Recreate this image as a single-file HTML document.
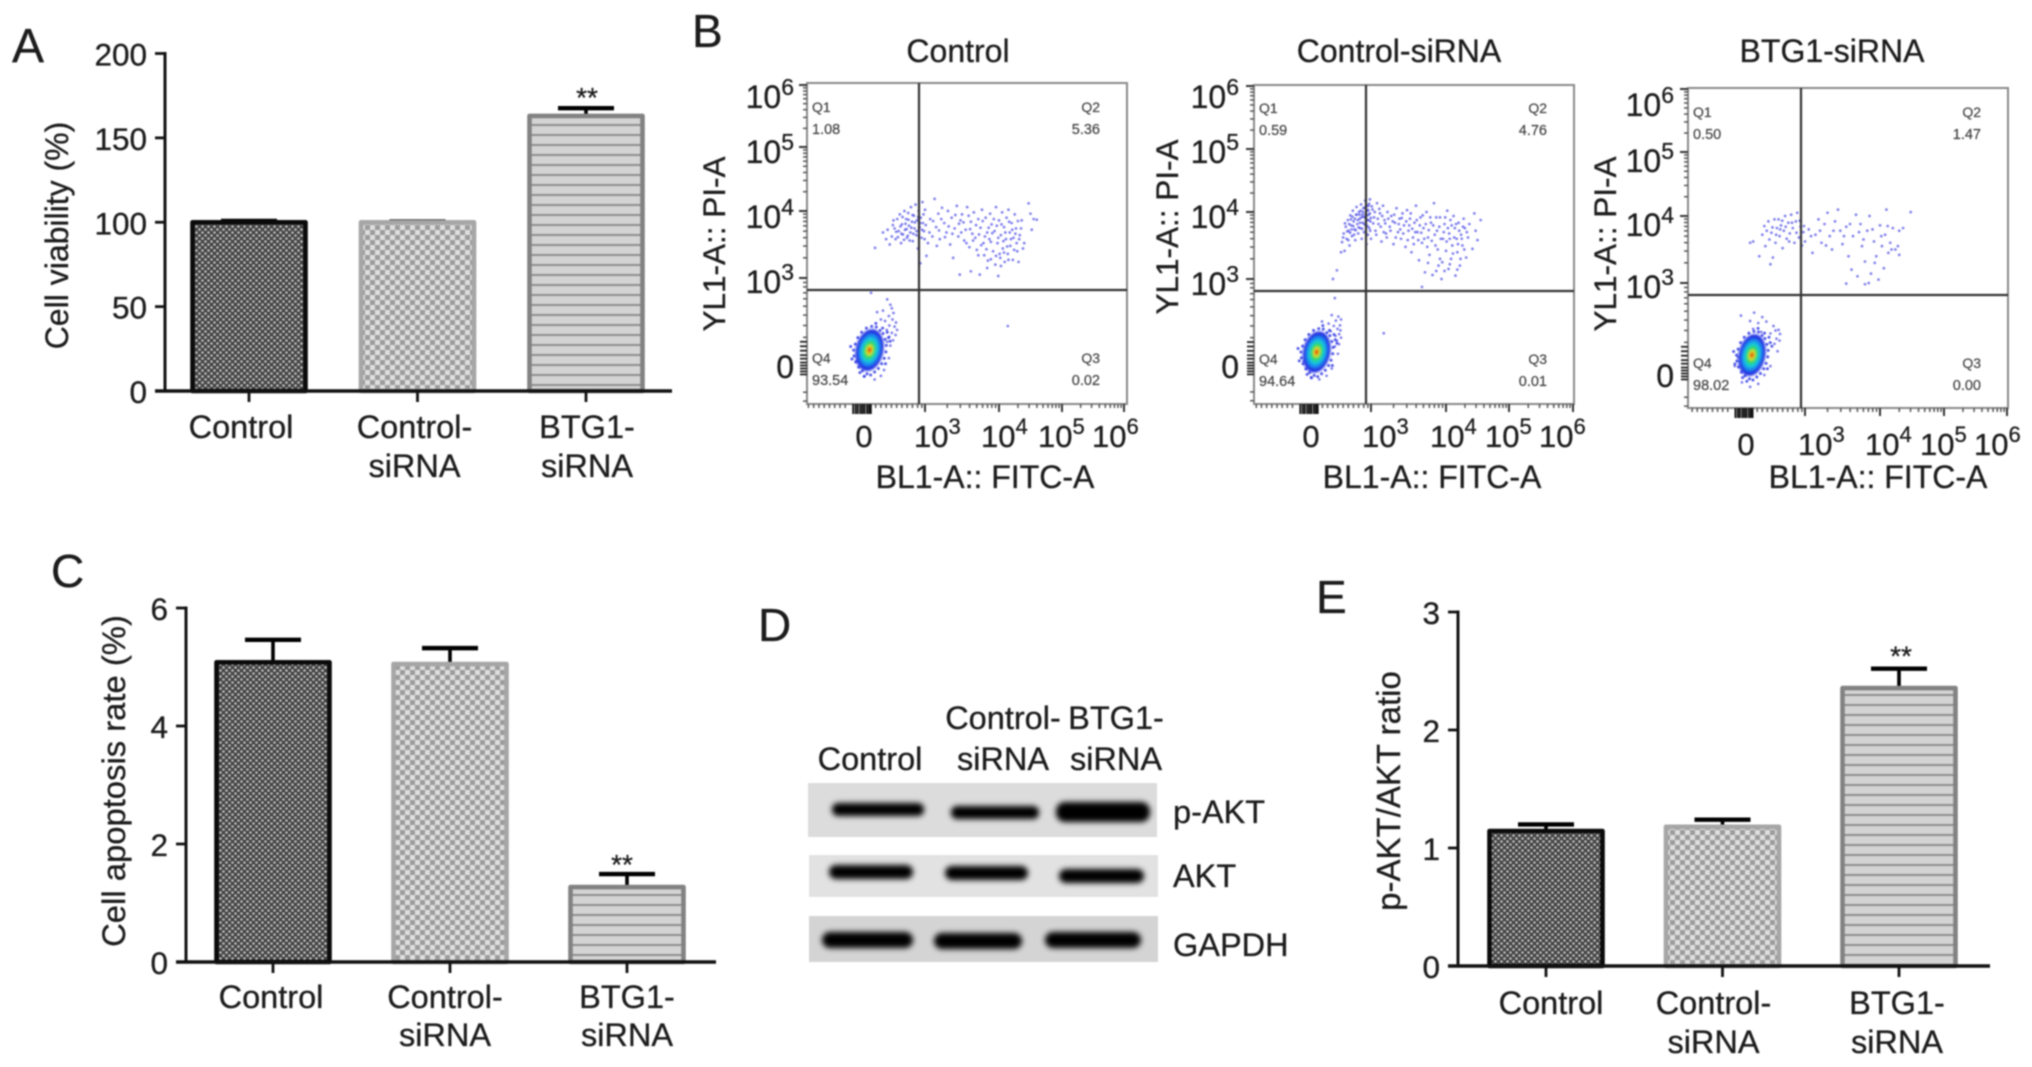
<!DOCTYPE html>
<html lang="en">
<head>
<meta charset="utf-8">
<title>BTG1-siRNA cell viability, apoptosis and p-AKT figure</title>
<style>
  html, body { margin: 0; padding: 0; background: #fff; width: 2032px; height: 1067px; overflow: hidden; }
  svg { display: block; filter: blur(0.8px); }
  text { font-family: "Liberation Sans", sans-serif; fill: #1c1c1c; stroke: #1c1c1c; stroke-width: 0.3px; }
</style>
</head>
<body>
<svg id="figure" xmlns="http://www.w3.org/2000/svg" width="2032" height="1067" viewBox="0 0 2032 1067">
  <defs>
    <pattern id="pat-dots" patternUnits="userSpaceOnUse" width="6" height="6">
      <rect width="6" height="6" fill="#424242"/>
      <circle cx="1.5" cy="1.5" r="1.3" fill="#c4c4c4"/>
      <circle cx="4.5" cy="4.5" r="1.3" fill="#c4c4c4"/>
    </pattern>
    <pattern id="pat-check" patternUnits="userSpaceOnUse" width="10" height="10">
      <rect width="10" height="10" fill="#dedede"/>
      <rect x="0" y="0" width="5" height="5" fill="#9c9c9c"/>
      <rect x="5" y="5" width="5" height="5" fill="#9c9c9c"/>
    </pattern>
    <pattern id="pat-lines" patternUnits="userSpaceOnUse" width="10" height="10">
      <rect width="10" height="10" fill="#d4d4d4"/>
      <rect y="4" width="10" height="2" fill="#8e8e8e"/>
    </pattern>
    <filter id="band-blur" x="-20%" y="-100%" width="140%" height="300%"><feGaussianBlur stdDeviation="2.8"/></filter>
    <filter id="blob-blur" x="-30%" y="-30%" width="160%" height="160%"><feGaussianBlur stdDeviation="1.1"/></filter>
  </defs>

  <text x="12" y="62" font-size="48">A</text>
  <text x="692" y="47" font-size="46">B</text>
  <text x="51" y="587" font-size="46">C</text>
  <text x="758" y="641" font-size="46">D</text>
  <text x="1316" y="613" font-size="46">E</text>

  <g id="panel-a"></g>
  <g id="panel-b"></g>
  <g id="panel-c"></g>
  <g id="panel-e"></g>

  <g id="panel-d">
    <text x="870" y="770" font-size="32.5" text-anchor="middle">Control</text>
    <text x="1003" y="729" font-size="32.5" text-anchor="middle">Control-</text>
    <text x="1003" y="770" font-size="32.5" text-anchor="middle">siRNA</text>
    <text x="1116" y="729" font-size="32.5" text-anchor="middle">BTG1-</text>
    <text x="1116" y="770" font-size="32.5" text-anchor="middle">siRNA</text>

    <rect x="808" y="783" width="349" height="54" fill="#dcdcdc"/>
    <rect x="809" y="855" width="349" height="42" fill="#e2e2e2"/>
    <rect x="809" y="916" width="349" height="46" fill="#d4d4d4"/>

    <g filter="url(#band-blur)" fill="#000">
      <rect x="832" y="803" width="92" height="13" rx="6"/>
      <rect x="951" y="806" width="88" height="13" rx="6"/>
      <rect x="1056" y="802" width="94" height="20" rx="9"/>
      <rect x="829" y="865" width="84" height="14" rx="7"/>
      <rect x="945" y="866" width="83" height="14" rx="7"/>
      <rect x="1059" y="869" width="85" height="14" rx="7"/>
      <rect x="822" y="932" width="91" height="16" rx="8"/>
      <rect x="934" y="933" width="88" height="16" rx="8"/>
      <rect x="1045" y="932" width="96" height="16" rx="8"/>
    </g>

    <text x="1173" y="823" font-size="32.5">p-AKT</text>
    <text x="1173" y="887" font-size="32.5">AKT</text>
    <text x="1173" y="956" font-size="32.5">GAPDH</text>
  </g>

<script>
// ---------- bar chart data ----------
const barCategories = [["Control"], ["Control-", "siRNA"], ["BTG1-", "siRNA"]];
const barPatterns = ["pat-dots", "pat-check", "pat-lines"];
const barStrokes = ["#0a0a0a", "#a6a6a6", "#828282"];

const viabilityValues = [100, 100, 163];
const viabilityErrors = [0.8, 0.4, 4.6];
const viabilityTicks = [0, 50, 100, 150, 200];

const apoptosisValues = [5.08, 5.05, 1.27];
const apoptosisErrors = [0.38, 0.27, 0.22];
const apoptosisTicks = [0, 2, 4, 6];

const ratioValues = [1.144, 1.18, 2.355];
const ratioErrors = [0.056, 0.06, 0.165];
const ratioTicks = [0, 1, 2, 3];

// ---------- flow cytometry data (biexponential channel units: 3 = 10^3, 4 = 10^4 ...) ----------
const flowTitles = ["Control", "Control-siRNA", "BTG1-siRNA"];
const flowXAxisTicks = [0, 3, 4, 5, 6];
const flowYAxisTicks = [0, 3, 4, 5, 6];
const quadrantNames = ["Q1", "Q2", "Q3", "Q4"];
const controlQuadrants = ["1.08", "5.36", "0.02", "93.54"];
const controlSirnaQuadrants = ["0.59", "4.76", "0.01", "94.64"];
const btg1SirnaQuadrants = ["0.50", "1.47", "0.00", "98.02"];
const blobCenters = [[0.36, 0.57], [0.37, 0.51], [0.39, 0.57]];

const controlPoints = [
[0.62,3.45],[1.0,3.68],[1.15,3.58],[1.22,3.72],[1.32,3.5],[1.42,3.62],[1.5,3.86],[1.55,3.74],[1.6,3.58],[1.68,3.88],[1.75,3.7],[1.8,3.95],[1.86,3.52],[1.9,3.8],[1.95,3.65],[2.02,4.0],[2.05,3.72],[2.1,3.88],[2.14,3.6],[2.2,3.97],[2.24,3.78],[2.3,3.68],[2.33,4.06],[2.38,3.84],[2.42,3.55],[2.47,3.93],[2.5,3.74],[2.55,4.1],[2.58,3.64],[2.62,3.86],[2.66,3.44],[2.7,4.0],[2.74,3.76],[2.8,3.9],[2.84,3.6],[2.88,4.14],[2.9,3.82],[2.95,3.7],[3.0,4.02],[3.02,3.33],[3.04,3.52],[3.07,3.88],[3.1,3.62],[3.13,4.19],[3.15,3.76],[3.18,3.96],[3.2,3.58],[3.23,4.05],[3.26,3.82],[3.29,3.68],[3.31,4.0],[3.34,3.5],[3.36,3.9],[3.38,3.3],[3.4,3.74],[3.43,4.08],[3.45,3.62],[3.47,3.05],[3.48,3.86],[3.5,3.95],[3.53,3.56],[3.55,3.72],[3.57,4.06],[3.6,3.46],[3.62,3.84],[3.64,3.66],[3.66,3.98],[3.68,3.6],[3.7,3.42],[3.72,3.88],[3.74,3.05],[3.75,3.75],[3.77,4.02],[3.79,3.52],[3.8,3.34],[3.82,3.9],[3.84,3.68],[3.85,3.26],[3.87,3.58],[3.88,3.96],[3.9,3.8],[3.92,3.4],[3.94,3.7],[3.95,3.2],[3.96,4.06],[3.98,3.52],[3.99,3.03],[4.0,3.86],[4.02,3.3],[4.03,3.64],[4.05,3.98],[4.06,3.44],[4.08,3.76],[4.09,3.24],[4.11,3.58],[4.12,3.9],[4.14,3.36],[4.15,4.02],[4.17,3.68],[4.18,3.48],[4.2,3.82],[4.22,3.27],[4.23,3.6],[4.25,3.95],[4.27,3.74],[4.29,3.4],[4.31,3.24],[4.33,3.64],[4.36,3.86],[4.4,3.52],[4.47,4.12],[4.5,3.96],[4.52,3.72],[4.55,3.88],[4.6,3.87],[4.14,1.38],[3.62,3.1],[3.84,3.15],[2.78,3.22],
[1.47,3.79],[1.63,3.69],[1.71,3.61],[1.83,3.77],[1.88,3.66],[1.93,3.91],[2.0,3.57],[2.07,3.81],[2.12,3.73],[2.18,3.63],[2.21,3.87],[2.27,3.56],[2.35,3.75],[2.41,3.94],[2.44,3.66],[2.52,3.83],[2.6,3.7],[2.67,3.91],[2.71,3.62],[2.77,3.82],[2.86,3.72],[2.93,3.95],[2.98,3.58],[3.01,3.79],[3.06,3.68],[3.11,3.85],[3.16,3.48],[3.19,3.71],[3.22,3.88],[3.27,3.61],[3.32,3.77],[3.37,3.66],[3.41,3.94],[3.46,3.81],[3.49,3.68],[3.52,3.83],[3.56,3.52],[3.59,3.93],[3.61,3.73],[3.65,3.56],[3.69,3.79],[3.73,3.65],[3.76,3.49],[3.78,3.85],[3.81,3.62],[3.83,3.43],[3.86,3.75],[3.89,3.54],[3.91,3.67],[3.93,3.88],[3.97,3.78],[3.99,3.6],[4.01,3.36],[4.04,3.8],[4.07,3.55],[4.1,3.68],[4.13,3.47],[4.16,3.84],[4.19,3.58],[4.21,3.72],[4.24,3.42],[4.26,3.66],[4.28,3.52],[4.3,3.85],[4.32,3.58],[4.35,3.74],[4.38,3.44],[3.72,3.34],[3.89,3.28],[4.03,3.18],[4.15,3.27],[3.96,3.33],[4.08,3.38]
];
const controlHalo = [
[0.43,2.5],[1.2,2.28],[1.35,2.1],[1.42,1.98],[0.72,1.85],[1.0,1.9],[1.5,1.82],[1.28,1.72],[0.9,1.6],[1.1,1.55],[1.45,1.6],[1.62,1.5],[1.3,1.4],[1.55,1.36],[1.67,1.25],[1.18,1.25],[1.42,1.15],[1.6,1.08],[1.3,1.02],[1.48,0.9],[1.2,0.85],[1.35,0.72],[-0.25,0.2],[1.28,0.3],[1.05,-0.1],[0.1,-0.32],[0.6,-0.42],[0.9,-0.3]
];
const controlSirnaPoints = [
[1.16,3.0],[1.35,3.13],[1.55,3.4],[1.6,3.55],[1.68,3.68],[1.72,3.42],[1.78,3.78],[1.82,3.6],[1.88,3.88],[1.92,3.72],[1.96,3.5],[2.0,3.95],[2.04,3.8],[2.08,3.64],[2.12,4.02],[2.16,3.86],[2.2,3.74],[2.24,3.58],[2.28,3.96],[2.3,4.08],[2.34,3.82],[2.38,3.68],[2.42,4.0],[2.45,3.9],[2.48,3.76],[2.52,4.12],[2.55,3.6],[2.58,3.96],[2.6,3.84],[2.63,4.06],[2.66,3.7],[2.7,3.92],[2.72,4.18],[2.75,3.8],[2.78,3.52],[2.8,4.02],[2.82,3.88],[2.85,3.66],[2.88,4.1],[2.9,3.96],[2.92,3.76],[2.95,4.2],[2.97,3.86],[3.0,3.6],[3.02,4.04],[3.04,3.92],[3.06,3.72],[3.08,4.14],[3.1,3.82],[3.12,3.98],[3.14,3.56],[3.16,4.1],[3.18,3.88],[3.2,3.68],[3.22,4.0],[3.25,3.78],[3.27,3.94],[3.3,3.52],[3.32,3.84],[3.34,4.06],[3.36,3.7],[3.38,3.9],[3.4,3.6],[3.42,3.98],[3.44,3.8],[3.46,3.48],[3.48,4.03],[3.5,3.72],[3.52,3.9],[3.54,3.4],[3.56,3.62],[3.58,3.84],[3.6,4.1],[3.62,3.7],[3.64,3.28],[3.66,3.92],[3.68,3.54],[3.7,3.76],[3.72,3.1],[3.74,4.0],[3.76,3.62],[3.78,3.36],[3.8,3.84],[3.82,3.06],[3.84,4.14],[3.86,3.5],[3.88,3.72],[3.9,3.2],[3.92,3.92],[3.94,3.0],[3.96,3.6],[3.98,3.82],[4.0,3.42],[4.02,4.02],[4.04,3.15],[4.05,3.68],[4.07,3.88],[4.08,3.3],[4.1,3.5],[4.12,3.94],[4.14,3.76],[4.15,3.05],[4.17,3.6],[4.18,3.4],[4.2,3.84],[4.22,3.2],[4.24,3.66],[4.26,3.5],[4.28,3.9],[4.3,3.76],[4.32,3.32],[4.35,3.62],[4.45,3.98],[4.47,3.72],[4.5,3.58],[4.42,3.45],[4.55,3.88],[3.17,1.15],[3.68,2.73],
[1.65,3.62],[1.74,3.83],[1.85,3.71],[1.9,3.58],[1.94,3.82],[1.99,3.69],[2.03,3.89],[2.06,3.74],[2.1,3.93],[2.14,3.79],[2.18,3.66],[2.22,3.9],[2.26,3.73],[2.31,3.96],[2.36,3.88],[2.4,3.77],[2.44,3.96],[2.47,3.84],[2.5,4.02],[2.54,3.92],[2.57,3.75],[2.61,4.0],[2.64,3.93],[2.67,3.82],[2.69,4.07],[2.73,3.97],[2.76,3.87],[2.79,4.1],[2.81,3.95],[2.84,3.79],[2.87,4.03],[2.89,3.88],[2.91,4.13],[2.94,3.98],[2.96,3.72],[2.99,3.91],[3.01,4.09],[3.03,3.83],[3.05,4.0],[3.07,3.66],[3.09,3.9],[3.11,4.05],[3.13,3.78],[3.15,3.94],[3.17,3.7],[3.19,3.83],[3.21,3.62],[3.23,3.9],[3.26,3.72],[3.29,3.86],[3.31,3.96],[3.33,3.62],[3.37,3.82],[3.39,3.74],[3.41,3.91],[3.43,3.68],[3.47,3.86],[3.49,3.58],[3.51,3.8],[3.53,3.98],[3.55,3.75],[3.57,3.52],[3.59,3.7],[3.61,3.88],[3.63,3.58],[3.65,3.8],[3.67,3.69],[3.69,3.95],[3.71,3.6],[3.73,3.82],[3.75,3.48],[3.77,3.73],[3.79,3.92],[3.81,3.57],[3.83,3.8],[3.85,3.66],[3.87,3.92],[3.89,3.44],[3.91,3.78],[3.93,3.6],[3.95,3.25],[3.97,3.7],[3.99,3.92],[4.01,3.56],[4.03,3.76],[4.06,3.6],[4.09,3.8],[4.11,3.38],[4.13,3.62],[4.16,3.82],[4.19,3.52],[4.21,3.72],[4.23,3.3],[4.25,3.6],[4.27,3.78],[4.29,3.44],[4.33,3.7],[4.37,3.82],[3.98,3.12],[4.06,3.22],[3.87,3.12],[3.76,3.24],[4.18,3.14],[3.92,3.3]
];
const controlSirnaHalo = [
[1.25,2.35],[0.63,1.55],[1.1,1.77],[1.42,1.72],[1.55,1.62],[1.3,1.58],[0.95,1.48],[1.5,1.42],[1.2,1.4],[1.38,1.3],[1.52,1.25],[1.05,1.22],[1.46,1.12],[1.28,1.06],[1.55,1.0],[1.35,0.9],[1.45,0.78],[1.25,0.7],[-0.25,0.2],[1.4,0.45],[1.1,-0.05],[0.1,-0.35],[0.5,-0.42],[0.85,-0.3]
];
const btg1SirnaPoints = [
[0.3,3.6],[0.45,3.62],[0.75,3.4],[0.9,3.72],[1.0,3.85],[1.05,3.55],[1.2,3.92],[1.25,3.65],[1.3,3.28],[1.35,3.75],[1.42,3.38],[1.5,3.95],[1.55,3.6],[1.62,3.82],[1.7,3.95],[1.75,3.7],[1.82,3.86],[1.9,3.52],[1.96,3.78],[2.02,4.0],[2.1,3.66],[2.18,3.9],[2.25,3.74],[2.32,4.02],[2.4,3.82],[2.48,3.6],[2.55,3.92],[2.62,4.05],[2.7,3.68],[2.78,3.84],[2.85,3.56],[2.92,3.76],[3.0,3.62],[3.05,3.8],[3.1,3.45],[3.14,3.72],[3.18,3.95],[3.22,3.6],[3.26,3.88],[3.3,4.05],[3.33,3.7],[3.36,3.5],[3.4,3.92],[3.44,4.1],[3.47,3.78],[3.5,3.58],[3.55,3.84],[3.58,3.4],[3.62,3.2],[3.64,3.7],[3.68,4.02],[3.7,3.1],[3.74,3.88],[3.76,3.55],[3.8,3.32],[3.83,3.78],[3.86,4.0],[3.88,3.14],[3.92,3.62],[3.95,3.4],[3.98,3.05],[4.0,3.86],[4.03,3.55],[4.06,3.22],[4.08,3.72],[4.1,4.1],[4.13,3.45],[4.16,3.6],[4.2,3.82],[4.24,3.5],[4.28,3.55],[4.3,3.78],[4.36,3.82],[4.48,4.06],[3.55,2.98],[3.8,2.96],[3.85,3.0],[4.3,3.42],
[1.12,3.78],[1.4,3.83],[1.58,3.72],[1.78,3.8],[1.88,3.93],[2.05,3.84],[2.22,3.62],[2.36,3.9],[2.58,3.75],[2.74,3.93],[2.95,3.85],[3.08,3.7],[3.2,3.78],[3.28,3.56],[3.38,3.78],[3.52,3.7],[3.6,3.88],[3.72,3.76],[3.9,3.8],[4.02,3.7],[4.12,3.85],[4.18,3.5],[3.78,3.65],[3.93,3.3]
];
const btg1SirnaHalo = [
[-0.15,1.9],[0.5,2.0],[0.9,1.85],[0.3,1.72],[0.7,1.65],[1.1,1.7],[1.45,1.55],[1.7,1.42],[1.77,1.28],[1.55,1.4],[0.45,1.45],[1.3,1.3],[0.85,1.35],[1.6,1.12],[1.75,1.06],[1.5,0.95],[1.65,0.7],[-0.3,0.5],[-0.45,0.2],[1.3,0.2],[1.0,-0.1],[-0.1,-0.35],[0.3,-0.5],[0.7,-0.4]
];
// offsets from each density centre: speckled fringe around the dense core
const blobFringe = [
[0.1,0.8],[-0.15,0.74],[0.32,0.78],[0.5,0.66],[-0.38,0.6],[0.64,0.56],[-0.56,0.42],[0.74,0.36],[-0.68,0.2],[0.8,0.16],[-0.76,0.0],[0.78,-0.06],[-0.74,-0.2],[0.7,-0.28],[-0.66,-0.4],[0.58,-0.46],[-0.52,-0.58],[0.42,-0.62],[-0.34,-0.7],[0.24,-0.74],[-0.12,-0.8],[0.05,-0.84],[0.9,0.42],[-0.84,-0.3],[0.62,0.74],[-0.46,-0.76],[0.84,0.6],[0.98,0.3],[-0.9,0.12],[0.3,0.9],[-0.25,-0.88],[0.76,-0.46]
];

// ---------- helpers ----------
const NS = "http://www.w3.org/2000/svg";
const LOG_MINORS = [2, 3, 4, 5, 6, 7, 8, 9];
const BIEX_LOW = [-2.55, -2.3, -2.05, -1.8, -1.55, -1.3, -1.05, -0.8, 0.65, 0.9, 1.15, 1.4, 1.65, 1.9, 2.15, 2.4, 2.65, 2.85];
const BIEX_LOW_Y = [-1.15, -0.85, 1.0, 1.4, 1.75, 2.05, 2.3, 2.5, 2.7, 2.85];
const BIEX_ZERO_X = [-0.42, -0.3, -0.2, -0.08, 0.02, 0.12, 0.24, 0.34, 0.42];
const BIEX_ZERO_Y = [-0.25, -0.15, -0.05, 0.05, 0.15, 0.28, 0.4, 0.55, 0.7, 0.85];

function svgNode(tag, attrs, parent, content) {
  const n = document.createElementNS(NS, tag);
  for (const k in attrs) n.setAttribute(k, attrs[k]);
  if (content !== undefined) n.textContent = content;
  parent.appendChild(n);
  return n;
}
function linearScale(d0, d1, r0, r1) {
  return v => r0 + (v - d0) * (r1 - r0) / (d1 - d0);
}
function piecewiseScale(domain, range) {
  return v => {
    let i = 0;
    while (i < domain.length - 2 && v > domain[i + 1]) i++;
    return range[i] + (v - domain[i]) * (range[i + 1] - range[i]) / (domain[i + 1] - domain[i]);
  };
}

// ---------- bar chart ----------
function drawBarChart(g, cfg) {
  const y = linearScale(0, cfg.max, cfg.y0, cfg.yMax);
  const x = i => cfg.firstX + i * cfg.stepX;
  const barW = 113;
  const capW = 56;

  cfg.values.forEach((value, i) => {
    const top = y(value);
    const capY = y(value + cfg.errors[i]);

    const stem = svgNode("line", { x1: x(i), x2: x(i), y1: top, y2: capY, stroke: "#000", "stroke-width": 3.6 }, g);
    
    

    const cap = svgNode("line", { x1: x(i) - capW / 2, x2: x(i) + capW / 2, y1: capY, y2: capY, stroke: "#000", "stroke-width": 4.4 }, g);
    
    

    const bar = svgNode("rect", { x: x(i) - barW / 2, y: top, width: barW, height: cfg.y0 - top, fill: "url(#" + barPatterns[i] + ")", stroke: barStrokes[i], "stroke-width": 4.6, "stroke-linejoin": "round" }, g);
    
    

    const tick = svgNode("line", { x1: x(i), x2: x(i), y1: cfg.y0, y2: cfg.y0 + 11, stroke: "#111", "stroke-width": 2.8 }, g);
    
    

    barCategories[i].forEach((line, j) => {
      const label = svgNode("text", { x: x(i) + cfg.labelDx[i], y: cfg.labelY + j * cfg.labelGap, "font-size": 32.5, "text-anchor": "middle" }, g, line);
      
      
    });
  });

  const sig = svgNode("text", { x: x(2) + cfg.starDx, y: y(cfg.values[2] + cfg.errors[2]) - cfg.starGap, "font-size": 28, "text-anchor": "middle" }, g, "**");
  
  

  const yAxis = svgNode("line", { x1: cfg.axisX, x2: cfg.axisX, y1: cfg.yMax - 1.5, y2: cfg.y0 + 1.5, stroke: "#111", "stroke-width": 3 }, g);
  
  

  const xAxis = svgNode("line", { x1: cfg.axisX - 10, x2: cfg.axisEnd, y1: cfg.y0, y2: cfg.y0, stroke: "#111", "stroke-width": 3.4 }, g);
  
  

  cfg.ticks.forEach(t => {
    const tick = svgNode("line", { x1: cfg.axisX - 10, x2: cfg.axisX, y1: y(t), y2: y(t), stroke: "#111", "stroke-width": 2.8 }, g);
    
    

    const label = svgNode("text", { x: cfg.axisX - 18, y: y(t) + 12, "font-size": 31.5, "text-anchor": "end" }, g, String(t));
    
    
  });

  const title = svgNode("text", { transform: "translate(" + cfg.titleX + "," + cfg.titleY + ") rotate(-90)", "font-size": cfg.titleSize, "text-anchor": "middle" }, g, cfg.title);
  
  
}

drawBarChart(document.getElementById("panel-a"), {
  values: viabilityValues, errors: viabilityErrors, ticks: viabilityTicks, max: 200,
  y0: 391, yMax: 53.5, axisX: 165, axisEnd: 672, firstX: 249, stepX: 168.5,
  labelDx: [-8, -3, 1], labelY: 438, labelGap: 39, starDx: 1, starGap: 1,
  title: "Cell viability (%)", titleX: 68, titleY: 235.5, titleSize: 32
});
drawBarChart(document.getElementById("panel-c"), {
  values: apoptosisValues, errors: apoptosisErrors, ticks: apoptosisTicks, max: 6,
  y0: 962, yMax: 608, axisX: 186, axisEnd: 716, firstX: 273, stepX: 177,
  labelDx: [-2, -5, 0], labelY: 1008, labelGap: 38, starDx: -5, starGap: 0,
  title: "Cell apoptosis rate (%)", titleX: 125, titleY: 781, titleSize: 32.8
});
drawBarChart(document.getElementById("panel-e"), {
  values: ratioValues, errors: ratioErrors, ticks: ratioTicks, max: 3,
  y0: 966, yMax: 612, axisX: 1458, axisEnd: 1990, firstX: 1546, stepX: 176.5,
  labelDx: [5, -9, -2], labelY: 1014, labelGap: 39, starDx: 2, starGap: 3,
  title: "p-AKT/AKT ratio", titleX: 1400, titleY: 791, titleSize: 33
});

// ---------- flow plots ----------
const blobLevels = [
  { color: "#2230e2", k: 0.94 },
  { color: "#1e86ef", k: 0.74 },
  { color: "#12c8d8", k: 0.58 },
  { color: "#2ed868", k: 0.42 },
  { color: "#d8e020", k: 0.25 },
  { color: "#e83a10", k: 0.13 }
];

function drawFlowPanel(parent, cfg) {
  const g = svgNode("g", {}, parent);
  
  

  const x = piecewiseScale(flowXAxisTicks, cfg.xRange);
  const y = piecewiseScale(flowYAxisTicks, cfg.yRange);

  const title = svgNode("text", { x: cfg.titleX, y: 62, "font-size": 32, "text-anchor": "middle" }, g, cfg.title);
  
  

  const box = svgNode("rect", { x: cfg.left, y: cfg.top, width: cfg.right - cfg.left, height: cfg.bottom - cfg.top, fill: "#fff", stroke: "#8a8a8a", "stroke-width": 2 }, g);
  
  

  // minor and major ticks
  const minorX = BIEX_LOW.slice();
  const minorY = BIEX_LOW_Y.slice();
  [3, 4, 5].forEach(d => LOG_MINORS.forEach(m => {
    minorX.push(d + Math.log10(m));
    minorY.push(d + Math.log10(m));
  }));
  minorX.forEach(u => {
    const t = svgNode("line", { x1: x(u), x2: x(u), y1: cfg.bottom, y2: cfg.bottom + 4, stroke: "#555", "stroke-width": 1.5 }, g);
    
    
  });
  minorY.forEach(v => {
    const t = svgNode("line", { x1: cfg.left - 4, x2: cfg.left, y1: y(v), y2: y(v), stroke: "#555", "stroke-width": 1.5 }, g);
    
    
  });
  BIEX_ZERO_X.forEach(u => {
    const t = svgNode("line", { x1: x(u), x2: x(u), y1: cfg.bottom, y2: cfg.bottom + 10, stroke: "#111", "stroke-width": 1.9 }, g);
    
    
  });
  BIEX_ZERO_Y.forEach(v => {
    const t = svgNode("line", { x1: cfg.left - 7, x2: cfg.left, y1: y(v), y2: y(v), stroke: "#222", "stroke-width": 1.8 }, g);
    
    
  });
  flowXAxisTicks.slice(1).forEach(u => {
    const t = svgNode("line", { x1: x(u), x2: x(u), y1: cfg.bottom, y2: cfg.bottom + 8, stroke: "#333", "stroke-width": 2 }, g);
    
    
  });
  flowYAxisTicks.slice(1).forEach(v => {
    const t = svgNode("line", { x1: cfg.left - 8, x2: cfg.left, y1: y(v), y2: y(v), stroke: "#333", "stroke-width": 2 }, g);
    
    
  });

  // tick labels
  const zeroX = svgNode("text", { x: x(0) + 2, y: cfg.xLabelY, "font-size": 31, "text-anchor": "middle" }, g, "0");
  
  

  const zeroY = svgNode("text", { x: cfg.yLabelRight, y: y(0) + cfg.yZeroDy, "font-size": 32, "text-anchor": "end" }, g, "0");
  
  

  flowXAxisTicks.slice(1).forEach((u, i) => {
    const lab = svgNode("text", { x: x(u) + cfg.xLabelDx[i], y: cfg.xLabelY, "font-size": 31 }, g);
    
    
    svgNode("tspan", {}, lab, "10");
    svgNode("tspan", { dy: -13, "font-size": 22 }, lab, String(u));
  });
  flowYAxisTicks.slice(1).forEach((v, i) => {
    const lab = svgNode("text", { x: cfg.yLabelRight, y: y(v) + cfg.yLabelDy[i], "font-size": 32, "text-anchor": "end" }, g);
    
    
    svgNode("tspan", {}, lab, "10");
    svgNode("tspan", { dy: -13, "font-size": 23 }, lab, String(v));
  });

  const xTitle = svgNode("text", { x: cfg.xTitleX, y: 488, "font-size": 32, "text-anchor": "middle" }, g, "BL1-A:: FITC-A");
  
  

  const yTitle = svgNode("text", { transform: "translate(" + cfg.yTitleX + "," + cfg.yTitleY + ") rotate(-90)", "font-size": 31.5, "text-anchor": "middle" }, g, "YL1-A:: PI-A");
  
  

  // points
  cfg.points.concat(cfg.halo).forEach(p => {
    const dot = svgNode("circle", { cx: x(p[0]), cy: y(p[1]), r: 1.35, fill: "#4a4ae6", "fill-opacity": 0.72 }, g);
    
    
  });
  blobFringe.forEach(p => {
    const dot = svgNode("circle", { cx: x(cfg.blob[0] + p[0]), cy: y(cfg.blob[1] + p[1]), r: 1.5, fill: "#2a34e4", "fill-opacity": 0.8 }, g);
    
    
  });

  // density blob
  const cx = x(cfg.blob[0]);
  const cy = y(cfg.blob[1]);
  const blob = svgNode("g", { filter: "url(#blob-blur)", transform: "rotate(12 " + cx + " " + cy + ")" }, g);
  
  
  blobLevels.forEach(level => {
    const e = svgNode("ellipse", { cx: cx, cy: cy, rx: (x(0.7) - x(0)) * level.k, ry: (y(0) - y(0.76)) * level.k, fill: level.color }, blob);
    
    
  });

  // gates
  const gateV = svgNode("line", { x1: cfg.gateX, x2: cfg.gateX, y1: cfg.top, y2: cfg.bottom, stroke: "#333", "stroke-width": 2.2 }, g);
  
  
  const gateH = svgNode("line", { x1: cfg.left, x2: cfg.right, y1: cfg.gateY, y2: cfg.gateY, stroke: "#333", "stroke-width": 2.2 }, g);
  
  

  // quadrant labels Q1 Q2 Q3 Q4
  const qLeft = cfg.left + 5;
  const qRight = cfg.qRight;
  const spots = [
    { x: qLeft, y: cfg.qTop, anchor: "start" },
    { x: qRight, y: cfg.qTop, anchor: "end" },
    { x: qRight, y: cfg.qBottom, anchor: "end" },
    { x: qLeft, y: cfg.qBottom, anchor: "start" }
  ];
  spots.forEach((s, i) => {
    const name = svgNode("text", { x: s.x, y: s.y, "font-size": 14, "text-anchor": s.anchor, style: "fill:#444;stroke:#444;stroke-width:.2px" }, g, quadrantNames[i]);
    
    
    const val = svgNode("text", { x: s.x, y: s.y + 22, "font-size": 14.5, "text-anchor": s.anchor, style: "fill:#444;stroke:#444;stroke-width:.2px" }, g, cfg.quadrants[i]);
    
    
  });
}

const panelB = document.getElementById("panel-b");
drawFlowPanel(panelB, {
  title: flowTitles[0], titleX: 958, points: controlPoints, halo: controlHalo, blob: blobCenters[0], quadrants: controlQuadrants,
  left: 807, right: 1127, top: 83, bottom: 404, gateX: 919, gateY: 290,
  xRange: [862, 925, 999, 1062, 1124], yRange: [367, 278, 211, 147, 85],
  xLabelY: 447, xLabelDx: [-11, -18, -24, -32], yLabelRight: 794, yLabelDy: [15, 17, 16, 23], yZeroDy: 11,
  xTitleX: 985, yTitleX: 725, yTitleY: 244, qTop: 112, qBottom: 363, qRight: 1100
});
drawFlowPanel(panelB, {
  title: flowTitles[1], titleX: 1399, points: controlSirnaPoints, halo: controlSirnaHalo, blob: blobCenters[1], quadrants: controlSirnaQuadrants,
  left: 1254, right: 1574, top: 85, bottom: 404, gateX: 1366, gateY: 291,
  xRange: [1309, 1371, 1446, 1509, 1573], yRange: [367, 279, 212, 149, 86],
  xLabelY: 447, xLabelDx: [-9, -16, -24, -34], yLabelRight: 1239, yLabelDy: [16, 16, 14, 22], yZeroDy: 11,
  xTitleX: 1432, yTitleX: 1178, yTitleY: 227, qTop: 113, qBottom: 364, qRight: 1547
});
drawFlowPanel(panelB, {
  title: flowTitles[2], titleX: 1832, points: btg1SirnaPoints, halo: btg1SirnaHalo, blob: blobCenters[2], quadrants: btg1SirnaQuadrants,
  left: 1688, right: 2008, top: 88, bottom: 408, gateX: 1801, gateY: 295,
  xRange: [1744, 1805, 1880, 1944, 2007], yRange: [372, 283, 216, 152, 89],
  xLabelY: 455, xLabelDx: [-7, -15, -24, -33], yLabelRight: 1674, yLabelDy: [15, 20, 20, 27], yZeroDy: 15,
  xTitleX: 1878, yTitleX: 1616, yTitleY: 244, qTop: 117, qBottom: 368, qRight: 1981
});
</script>
</svg>
</body>
</html>
